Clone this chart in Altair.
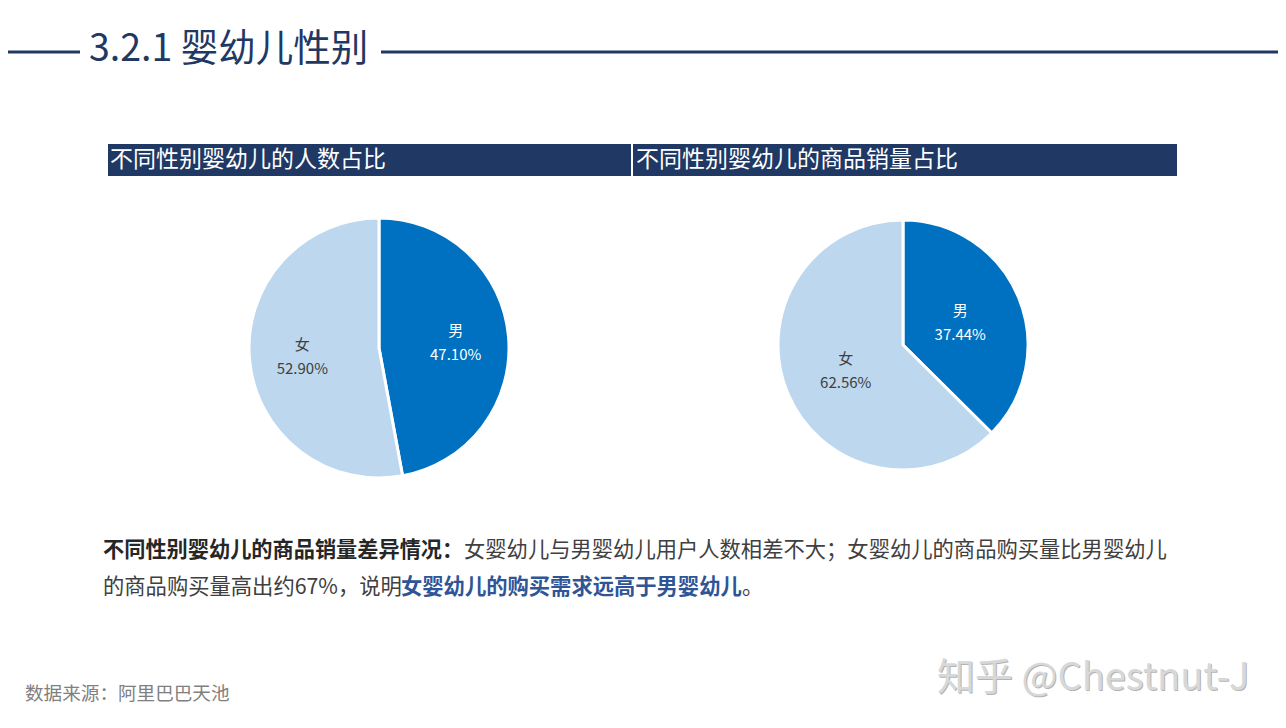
import altair as alt
import pandas as pd

# ---------------- data ----------------
categories = ["男", "女"]
slice_order = [1, 2]
count_share = [47.10, 52.90]      # 人数占比 (%)
sales_share = [37.44, 62.56]      # 商品销量占比 (%)
slice_colors = ["#0070C0", "#BDD7EE"]

title_text = "3.2.1 婴幼儿性别"
panel_titles = ["不同性别婴幼儿的人数占比", "不同性别婴幼儿的商品销量占比"]
para1_bold = "不同性别婴幼儿的商品销量差异情况："
para1_rest = "女婴幼儿与男婴幼儿用户人数相差不大；女婴幼儿的商品购买量比男婴幼儿"
para2_start = "的商品购买量高出约67%，说明"
para2_bold = "女婴幼儿的购买需求远高于男婴幼儿"
para2_end = "。"
source_text = "数据来源：阿里巴巴天池"
watermark_text = "知乎 @Chestnut-J"

FONT = "Noto Sans CJK SC"
NAVY = "#1F3864"
OX, OY = 8, 8


def X(v):
    return alt.value(v - OX)


def Y(v):
    return alt.value(v - OY)


def one():
    return pd.DataFrame({"k": [0]})


def text(s, x, y, size, color, weight="normal", align="left"):
    return alt.Chart(pd.DataFrame({"t": [s]})).mark_text(
        font=FONT, fontSize=size, color=color, fontWeight=weight,
        align=align, baseline="middle"
    ).encode(text="t:N", x=X(x), y=Y(y))


def rule(x1, x2, y, color, w):
    return alt.Chart(one()).mark_rule(color=color, strokeWidth=w).encode(
        x=X(x1), x2=X(x2), y=Y(y))


def rect(x1, x2, y1, y2, color):
    return alt.Chart(one()).mark_rect(color=color).encode(
        x=X(x1), x2=X(x2), y=Y(y1), y2=Y(y2))


def pie(values, cx, cy, r, label_r):
    df = pd.DataFrame({"gender": categories, "share": values, "order": slice_order})
    df["label"] = df["gender"] + "\n" + df["share"].map(lambda v: f"{v:.2f}%")
    base = alt.Chart(df).encode(
        theta=alt.Theta("share:Q", stack=True),
        order=alt.Order("order:Q"),
    )
    arcs = base.mark_arc(outerRadius=r, stroke="white", strokeWidth=3).encode(
        color=alt.Color("gender:N", scale=alt.Scale(domain=categories, range=slice_colors),
                        legend=None),
        x=X(cx), y=Y(cy),
    )
    labels = base.mark_text(radius=label_r, font=FONT, fontSize=15, lineBreak="\n",
                            lineHeight=24, baseline="middle", align="center",
                            dy=-10).encode(
        text="label:N",
        color=alt.condition(alt.datum.gender == "男", alt.value("white"), alt.value("#404040")),
        x=X(cx), y=Y(cy),
    )
    return [arcs, labels]


layers = []
# title with lines
layers.append(rule(3, 80, 52, NAVY, 3))
layers.append(rule(381, 1281, 52, NAVY, 3))
layers.append(text(title_text, 89, 50, 37.5, NAVY))
# panel headers
layers.append(rect(108, 631, 144, 176, NAVY))
layers.append(rect(633, 1177, 144, 176, NAVY))
layers.append(text(panel_titles[0], 110, 160, 23, "white"))
layers.append(text(panel_titles[1], 636, 160, 23, "white"))
# pies
layers += pie(count_share, 379, 348, 130, 77)
layers += pie(sales_share, 903, 345, 125, 62)
# paragraph
layers.append(text(para1_bold, 103, 551, 21.2, "#262626", "bold"))
layers.append(text(para1_rest, 464, 551, 21.3, "#404040"))
layers.append(text(para2_start, 103, 588, 21.3, "#404040"))
layers.append(text(para2_bold, 401, 588, 21.3, "#2F5597", "bold"))
layers.append(text(para2_end, 742, 588, 21.3, "#404040"))
# footer & watermark
layers.append(text(source_text, 25, 694, 18.6, "#808080"))
layers.append(text(watermark_text, 938, 680, 38, "#b4b4b4"))
layers.append(text(watermark_text, 937, 679, 38, "#d8d8d8"))

chart = alt.layer(*layers).properties(
    width=1270, height=712,
    autosize=alt.AutoSizeParams(type="none"),
    padding=0,
).configure_view(stroke=None)

chart.save("out.html", embed_options={"renderer": "svg", "actions": False})
